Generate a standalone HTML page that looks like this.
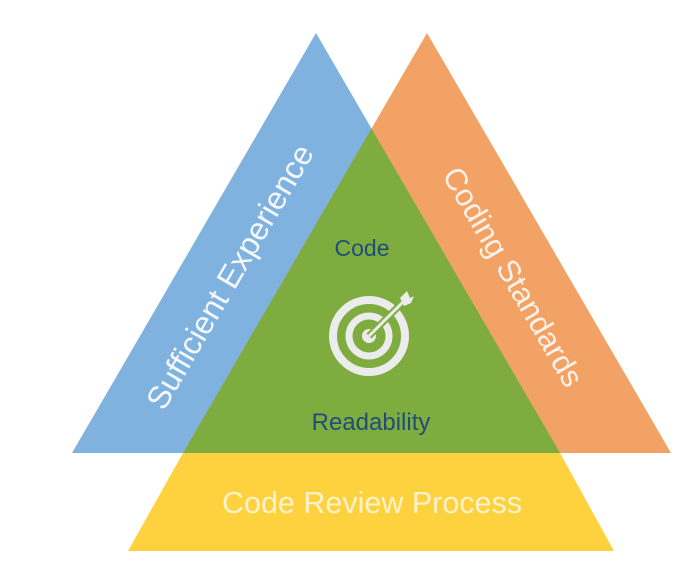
<!DOCTYPE html>
<html><head><style>
html,body{margin:0;padding:0;background:#fff;}
body{width:689px;height:583px;overflow:hidden;position:relative;font-family:"Liberation Sans",sans-serif;}
</style></head><body>
<svg width="689" height="583" viewBox="0 0 689 583" style="position:absolute;left:0;top:0">
<polygon points="316,33 72,453 560,453" fill="#7fb2de"/>
<polygon points="427,33 183,453 671,453" fill="#f2a264"/>
<polygon points="371.5,128.5 183,453 560,453" fill="#7fac3f"/>
<polygon points="183,453 560,453 614,551 128,551" fill="#fed23e"/>
<g fill="none" stroke="#ececec">
<circle cx="369" cy="336" r="36" stroke-width="8"/>
<circle cx="369" cy="336" r="20" stroke-width="7"/>
</g>
<circle cx="369" cy="336" r="7" fill="#ececec"/>
<line x1="369" y1="336" x2="405" y2="300" stroke="#7fac3f" stroke-width="7"/>
<line x1="369" y1="336" x2="405" y2="300" stroke="#ececec" stroke-width="3"/>
<polygon points="400,298 407,291 410,298 414,296 411,303 404,306" fill="#ececec"/>
<text x="362" y="256" font-size="23" fill="#1f4e79" text-anchor="middle" font-family="Liberation Sans, sans-serif">Code</text>
<text x="371" y="430" font-size="24" fill="#1f4e79" text-anchor="middle" font-family="Liberation Sans, sans-serif">Readability</text>
<text transform="translate(232,278) rotate(-59.8)" font-size="32" fill="#f4f7fb" text-anchor="middle" dominant-baseline="middle" font-family="Liberation Sans, sans-serif">Sufficient Experience</text>
<text transform="translate(511,278) rotate(59.8)" font-size="31" fill="#fcf1e8" text-anchor="middle" dominant-baseline="middle" font-family="Liberation Sans, sans-serif">Coding Standards</text>
<text x="372" y="513" font-size="30.5" fill="#fdf2cc" text-anchor="middle" font-family="Liberation Sans, sans-serif">Code Review Process</text>
</svg>
</body></html>
